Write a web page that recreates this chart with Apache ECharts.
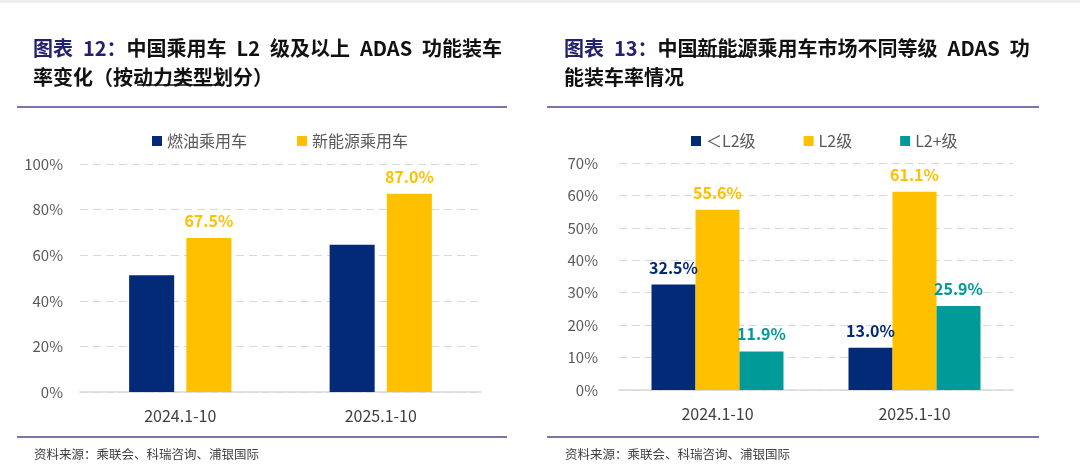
<!DOCTYPE html>
<html>
<head>
<meta charset="utf-8">
<script src="https://cdn.jsdelivr.net/npm/echarts@6/dist/echarts.min.js"></script>
<style>
  html, body { margin: 0; padding: 0; background: #fff; }
  #main { width: 1080px; height: 475px; }
</style>
</head>
<body>
<div id="main"></div>
<script>
// 数据
var categories = ['2024.1-10', '2025.1-10'];
// 图表12：按动力类型
var powerNames = ['燃油乘用车', '新能源乘用车'];
var fuelRate = [51.2, 64.6];
var nevRate = [67.5, 87.0];
var leftTicks = [0, 20, 40, 60, 80, 100];
// 图表13：新能源按等级
var levelNames = ['＜L2级', 'L2级', 'L2+级'];
var belowL2 = [32.5, 13.0];
var l2 = [55.6, 61.1];
var aboveL2 = [11.9, 25.9];
var rightTicks = [0, 10, 20, 30, 40, 50, 60, 70];

var NAVY = '#022A78', GOLD = '#FFC000', TEAL = '#009B99';
var FONT = '"Noto Sans CJK SC", "Noto Sans", sans-serif';
var LINE = '#4A4A8C';
var SP = '\u2002';

var chart = echarts.init(document.getElementById('main'));

function titleStyle() {
    return {
        fontFamily: FONT,
        lineHeight: 29,
        rich: {
            a: { color: '#23216E', fontSize: 20, fontWeight: 'bold', fontFamily: FONT, lineHeight: 29 },
            b: { color: '#111', fontSize: 20, fontWeight: 'bold', fontFamily: FONT, lineHeight: 29 }
        }
    };
}

function label(color) {
    return {
        show: true,
        position: 'top',
        distance: 9,
        color: color,
        fontSize: 16,
        fontWeight: 'bold',
        fontFamily: FONT,
        formatter: function (p) { return p.value.toFixed(1) + '%'; }
    };
}

function yAxis(idx, ticks, margin) {
    return {
        gridIndex: idx,
        type: 'value',
        min: ticks[0],
        max: ticks[ticks.length - 1],
        interval: ticks[1] - ticks[0],
        axisLine: { show: false },
        axisTick: { show: false },
        axisLabel: { color: '#595959', fontSize: 15, fontFamily: FONT, margin: margin, formatter: '{value}%' },
        splitLine: { lineStyle: { color: '#D9D9D9', type: [8, 5], width: 1 } }
    };
}

function xAxis(idx) {
    return {
        gridIndex: idx,
        type: 'category',
        data: categories,
        axisLine: { lineStyle: { color: '#D9D9D9', width: 1.5 } },
        axisTick: { length: 6, lineStyle: { color: '#D9D9D9', width: 1.5 } },
        axisLabel: { color: '#404040', fontSize: 16, fontFamily: FONT, margin: 16 }
    };
}

function hline(x1, x2, y, color, w) {
    return { type: 'line', z: 100, shape: { x1: x1, y1: y, x2: x2, y2: y }, style: { stroke: color, lineWidth: w } };
}

chart.setOption({
    animation: false,
    backgroundColor: '#fff',
    title: [{
        left: 28, top: 29,
        text: '{a|图表' + SP + '12：}{b|中国乘用车' + SP + 'L2' + SP + '级及以上' + SP + 'ADAS' + SP + '功能装车}\n{b|率变化（按动力类型划分）}',
        textStyle: titleStyle()
    }, {
        left: 559, top: 29,
        text: '{a|图表' + SP + '13：}{b|中国新能源乘用车市场不同等级' + SP + 'ADAS' + SP + '功}\n{b|能装车率情况}',
        textStyle: titleStyle()
    }, {
        left: 29, top: 443,
        text: '资料来源：乘联会、科瑞咨询、浦银国际',
        textStyle: { color: '#404040', fontSize: 12.5, fontWeight: 'normal', fontFamily: FONT }
    }, {
        left: 560, top: 443,
        text: '资料来源：乘联会、科瑞咨询、浦银国际',
        textStyle: { color: '#404040', fontSize: 12.5, fontWeight: 'normal', fontFamily: FONT }
    }],
    legend: [{
        left: 147, top: 128,
        data: powerNames,
        icon: 'rect', itemWidth: 10, itemHeight: 10, itemGap: 50,
        textStyle: { color: '#595959', fontSize: 16, fontFamily: FONT }
    }, {
        left: 686, top: 128,
        data: levelNames,
        icon: 'rect', itemWidth: 10, itemHeight: 10, itemGap: 48,
        textStyle: { color: '#595959', fontSize: 16, fontFamily: FONT }
    }],
    grid: [
        { left: 80, top: 164, width: 401, height: 228 },
        { left: 619, top: 163, width: 394, height: 227 }
    ],
    xAxis: [xAxis(0), xAxis(1)],
    yAxis: [yAxis(0, leftTicks, 17), yAxis(1, rightTicks, 21)],
    series: [{
        name: powerNames[0], type: 'bar', xAxisIndex: 0, yAxisIndex: 0,
        data: fuelRate, itemStyle: { color: NAVY },
        barGap: '27%', barCategoryGap: '49%', label: { show: false }
    }, {
        name: powerNames[1], type: 'bar', xAxisIndex: 0, yAxisIndex: 0,
        data: nevRate, itemStyle: { color: GOLD },
        barGap: '27%', barCategoryGap: '49%', label: label(GOLD)
    }, {
        name: levelNames[0], type: 'bar', xAxisIndex: 1, yAxisIndex: 1,
        data: belowL2, itemStyle: { color: NAVY },
        barGap: 0, barCategoryGap: '33%', label: label(NAVY)
    }, {
        name: levelNames[1], type: 'bar', xAxisIndex: 1, yAxisIndex: 1,
        data: l2, itemStyle: { color: GOLD },
        barGap: 0, barCategoryGap: '33%', label: label(GOLD)
    }, {
        name: levelNames[2], type: 'bar', xAxisIndex: 1, yAxisIndex: 1,
        data: aboveL2, itemStyle: { color: TEAL },
        barGap: 0, barCategoryGap: '33%', label: label(TEAL)
    }],
    graphic: [
        { type: 'rect', shape: { x: 0, y: 0, width: 1080, height: 3 }, style: { fill: '#EFEFEF' } },
        hline(17, 507, 107, LINE, 1.5),
        hline(547, 1039, 107, LINE, 1.5),
        hline(17, 507, 437, LINE, 1.5),
        hline(547, 1039, 437, LINE, 1.5),
        // 标题下划线
        hline(137, 223, 85, '#111', 1.3),
        hline(687, 750, 56, '#111', 1.3)
    ]
});
</script>
</body>
</html>
